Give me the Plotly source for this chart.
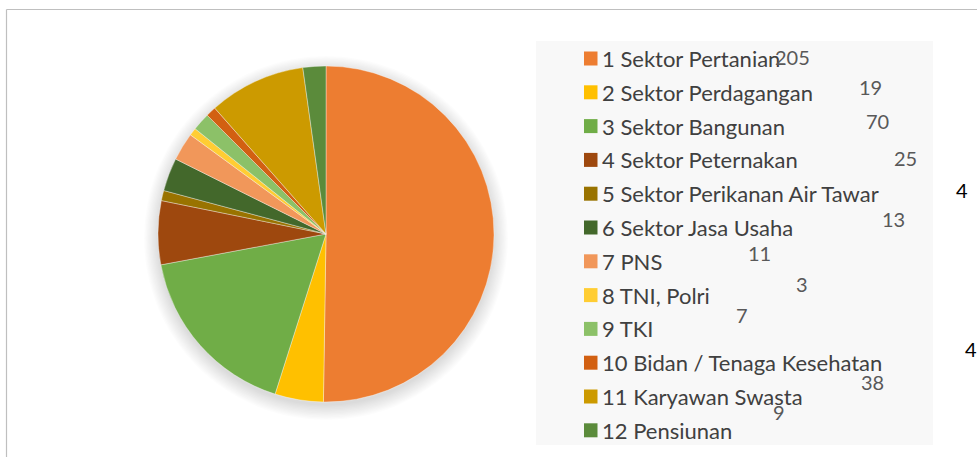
import plotly.graph_objects as go

# ---- data ----
categories = [
    "1 Sektor Pertanian", "2 Sektor Perdagangan", "3 Sektor Bangunan",
    "4 Sektor Peternakan", "5 Sektor Perikanan Air Tawar", "6 Sektor Jasa Usaha",
    "7 PNS", "8 TNI, Polri", "9 TKI", "10 Bidan / Tenaga Kesehatan",
    "11 Karyawan Swasta", "12 Pensiunan",
]
values = [205, 19, 70, 25, 4, 13, 11, 3, 7, 4, 38, 9]
colors = ["#ED7D31", "#FFC000", "#70AD47", "#9E480E", "#997300", "#43682B",
          "#F1975A", "#FFCD33", "#8CC168", "#D26012", "#CC9A00", "#5B8B3B"]

# ---- styling / layout (pixel positions) ----
W, H = 977, 457
def px(x): return x / W
def py(y): return 1 - y / H

cx, cy, R = 326, 234, 168

# data-label positions (as in the reference, scattered)
label_pos = [(792, 57), (870, 87), (877, 121), (905, 158), (962, 190), (893, 219),
             (759, 253), (802, 284), (742, 315), (971, 349), (872, 382), (779, 412)]
label_col = ["#595959"] * 12
label_col[4] = "#000000"
label_col[9] = "#000000"

fig = go.Figure()
fig.add_trace(go.Pie(
    labels=categories, values=values, sort=False, direction="clockwise", rotation=0,
    marker=dict(colors=colors, line=dict(color="rgba(255,255,255,0.6)", width=0.6)),
    textinfo="none", hoverinfo="label+value", showlegend=False,
    domain=dict(x=[px(cx - R), px(cx + R)], y=[py(cy + R), py(cy - R)]),
))

shapes = []
# frame lines
shapes.append(dict(type="line", xref="paper", yref="paper", x0=px(6.5), x1=px(W + 5),
                   y0=py(9.5), y1=py(9.5), line=dict(color="#BFBFBF", width=1.2)))
shapes.append(dict(type="line", xref="paper", yref="paper", x0=px(6.5), x1=px(6.5),
                   y0=py(9.5), y1=py(H + 5), line=dict(color="#BFBFBF", width=1.2)))
# soft shadow behind pie
for k in range(12):
    r = R + 14 - k * 1.3
    off = 4
    shapes.append(dict(type="circle", xref="paper", yref="paper", layer="below",
                       x0=px(cx - r), x1=px(cx + r), y0=py(cy + off + r), y1=py(cy + off - r),
                       fillcolor="rgba(0,0,0,0.012)", line=dict(width=0)))
# legend background
shapes.append(dict(type="rect", xref="paper", yref="paper", layer="below",
                   x0=px(536), x1=px(933), y0=py(445), y1=py(41),
                   fillcolor="#F8F8F8", line=dict(width=0)))

annotations = []
row0, step = 58.5, 33.8
for i, (cat, col) in enumerate(zip(categories, colors)):
    yc = row0 + i * step
    shapes.append(dict(type="rect", xref="paper", yref="paper",
                       x0=px(584), x1=px(597.5), y0=py(yc + 7), y1=py(yc - 7),
                       fillcolor=col, line=dict(width=0)))
    annotations.append(dict(xref="paper", yref="paper", x=px(600), y=py(yc),
                            text=cat, showarrow=False, xanchor="left", yanchor="middle",
                            font=dict(family="Lato", size=22, color="#404040")))

for v, (lx, ly), lc in zip(values, label_pos, label_col):
    annotations.append(dict(xref="paper", yref="paper", x=px(lx), y=py(ly),
                            text=str(v), showarrow=False, xanchor="center", yanchor="middle",
                            font=dict(family="Lato", size=20, color=lc)))

fig.update_layout(
    width=W, height=H, margin=dict(l=0, r=0, t=0, b=0),
    paper_bgcolor="white", plot_bgcolor="white",
    shapes=shapes, annotations=annotations, showlegend=False,
)
fig.write_html("out.html", config={"displayModeBar": False},
               post_script="document.body.style.margin='0';document.body.style.overflow='hidden';")
